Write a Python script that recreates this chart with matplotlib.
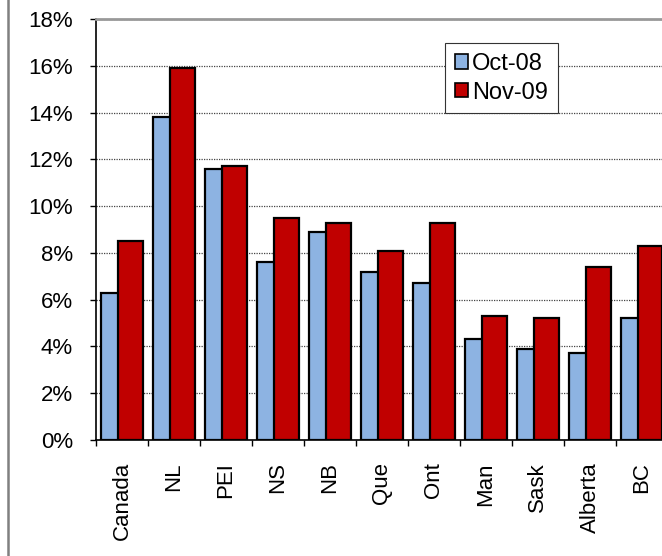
import numpy as np
import matplotlib
matplotlib.use('Agg')
from matplotlib import pyplot as plt
from matplotlib.lines import Line2D
from matplotlib.ticker import FuncFormatter

regions = ['Canada', 'NL', 'PEI', 'NS', 'NB', 'Que', 'Ont', 'Man', 'Sask', 'Alberta', 'BC']
oct_08 = [6.3, 13.8, 11.6, 7.6, 8.9, 7.2, 6.7, 4.3, 3.9, 3.7, 5.2]
nov_09 = [8.5, 15.9, 11.7, 9.5, 9.3, 8.1, 9.3, 5.3, 5.2, 7.4, 8.3]
y_ticks = np.arange(0, 19, 2)

plt.rcParams['font.family'] = ['Liberation Sans', 'DejaVu Sans']

fig = plt.figure(figsize=(6.62, 5.56), dpi=100)
ax = fig.add_axes([0.145, 0.2086, 0.864, 0.7572])

x = np.arange(len(regions))
width = 0.48
ax.bar(x - 0.155, oct_08, width, color='#8DB3E2', edgecolor='black',
       linewidth=1.6, label='Oct-08', zorder=3)
ax.bar(x + 0.155, nov_09, width, color='#C00000', edgecolor='black',
       linewidth=1.6, label='Nov-09', zorder=4)

ax.set_xlim(-0.5, len(regions) - 0.5)
ax.set_ylim(0, 18)
ax.set_yticks(y_ticks)
ax.yaxis.set_major_formatter(FuncFormatter(lambda v, p: '%d%%' % v))

# category labels sit at the centres, tick marks between the groups
ax.set_xticks(x)
ax.set_xticklabels(regions, rotation=90)
ax.set_xticks(np.arange(len(regions) + 1) - 0.5, minor=True)
ax.tick_params(axis='x', which='major', length=0, pad=16, labelsize=16)
ax.tick_params(axis='x', which='minor', length=4.5, width=1, direction='out')
ax.tick_params(axis='y', length=4.5, width=1, direction='out', pad=12,
               labelsize=16)

ax.grid(axis='y', color='#444444', linestyle=(0, (1, 1)), linewidth=0.9,
        zorder=0)
ax.spines['top'].set_color('#999999')
ax.spines['top'].set_linewidth(2)
ax.spines['right'].set_visible(False)
ax.spines['left'].set_linewidth(1.2)
ax.spines['bottom'].set_linewidth(1.2)

leg = ax.legend(loc='upper left', bbox_to_anchor=(0.61, 0.943), fontsize=17,
                handlelength=0.55, handleheight=0.55, handletextpad=0.18,
                labelspacing=0.28, borderpad=0.42, borderaxespad=0,
                fancybox=False, framealpha=1, edgecolor='#333333')
leg.get_frame().set_linewidth(0.8)
for h in leg.legend_handles:
    h.set_linewidth(1.2)

# chart border on the left edge
fig.add_artist(Line2D([0.0121, 0.0121], [0, 1], transform=fig.transFigure,
                      color='#808080', linewidth=1.8))

fig.savefig('out.png', dpi=100)
